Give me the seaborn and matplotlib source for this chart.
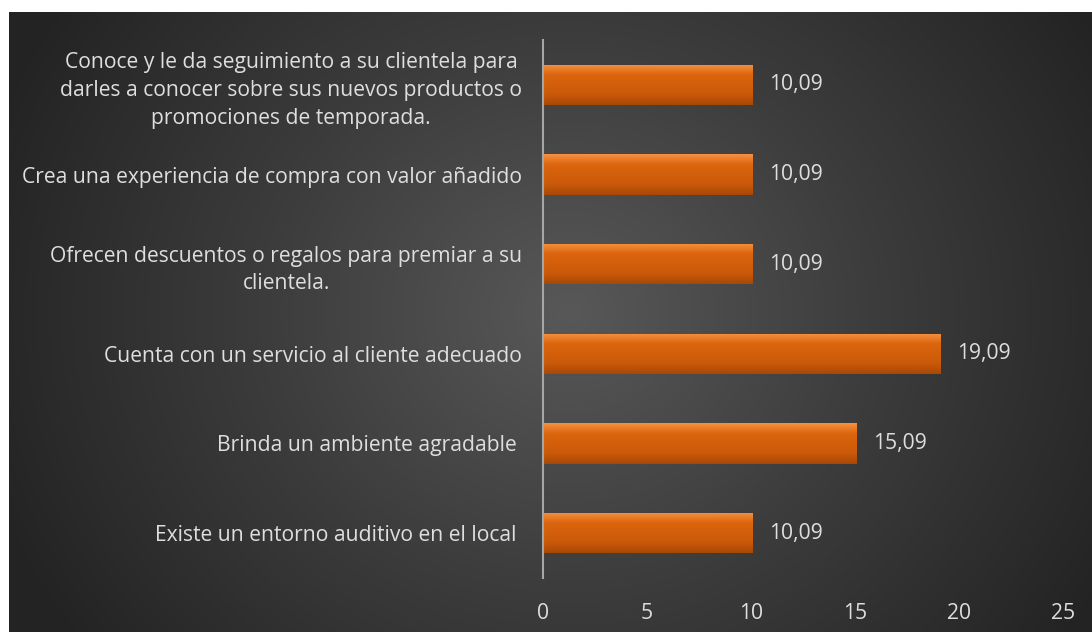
import numpy as np
import pandas as pd
import seaborn as sns
import matplotlib.pyplot as plt
from matplotlib.colors import LinearSegmentedColormap

# data
categories = [
    "Conoce y le da seguimiento a su clientela para\ndarles a conocer sobre sus nuevos productos o\npromociones de temporada.",
    "Crea una experiencia de compra con valor añadido",
    "Ofrecen descuentos o regalos para premiar a su\nclientela.",
    "Cuenta con un servicio al cliente adecuado",
    "Brinda un ambiente agradable ",
    "Existe un entorno auditivo en el local ",
]
values = [10.09, 10.09, 10.09, 19.09, 15.09, 10.09]
value_labels = ["10,09", "10,09", "10,09", "19,09", "15,09", "10,09"]
xticks = [0, 5, 10, 15, 20, 25]

df = pd.DataFrame({"cat": categories, "val": values})

txt = "#dedede"
fs = 15.2
plt.rcParams['font.family'] = ['Open Sans', 'DejaVu Sans']

fig = plt.figure(figsize=(10.92, 6.32), dpi=100)
fig.patch.set_facecolor("white")

# dark radial background
bg = fig.add_axes([9 / 1092, 0, 1 - 9 / 1092, 1 - 12 / 632])
W, H = 1083, 620
yy, xx = np.mgrid[0:H, 0:W]
r = np.sqrt(((xx - 560) / 620) ** 2 + ((yy - 300) / 560) ** 2)
r = np.clip(r, 0, 1)
bg_cmap = LinearSegmentedColormap.from_list("bg", ["#585858", "#3c3c3c", "#232323"])
bg.imshow(r, cmap=bg_cmap, aspect="auto", vmin=0, vmax=1, interpolation="bilinear")
bg.axis("off")

ax = fig.add_axes([543 / 1092, 1 - 578 / 632, (1063 - 543) / 1092, (578 - 40) / 632])
ax.set_facecolor("none")
sns.barplot(data=df, x="val", y="cat", orient="h", color="#d05f0c",
            width=0.45, saturation=1, ax=ax)

# bevelled look on each bar (light top edge, dark bottom edge)
grad = np.linspace(0, 1, 100).reshape(-1, 1)
bar_cmap = LinearSegmentedColormap.from_list(
    "bar", ["#a84806", "#c9590a", "#d35f0b", "#dc660f", "#f7913f"])
for p in ax.patches:
    x0, y0 = p.get_x(), p.get_y()
    w, h = p.get_width(), p.get_height()
    im = ax.imshow(grad, cmap=bar_cmap, aspect="auto",
                   extent=[x0, x0 + w, y0, y0 + h], zorder=p.get_zorder() + 0.1)
    im.set_clip_path(p)

for p, lab in zip(ax.patches, value_labels):
    ax.text(p.get_width() + 0.8, p.get_y() + p.get_height() / 2, lab,
            va="center", ha="left", color=txt, fontsize=fs)

ax.set_xlim(0, 25)
ax.set_ylim(5.5, -0.5)
ax.set_xticks(xticks)
ax.set_xlabel("")
ax.set_ylabel("")
for s in ["top", "right", "bottom"]:
    ax.spines[s].set_visible(False)
ax.spines["left"].set_color("#a6a6a6")
ax.spines["left"].set_linewidth(1.5)
ax.tick_params(axis="x", length=0, pad=18, colors=txt, labelsize=fs)
ax.tick_params(axis="y", length=0, pad=15, colors=txt, labelsize=fs)
for t in ax.get_yticklabels():
    t.set_multialignment("center")
    t.set_linespacing(1.42)
ax.grid(False)

fig.savefig("out.png", dpi=100, facecolor=fig.get_facecolor())
